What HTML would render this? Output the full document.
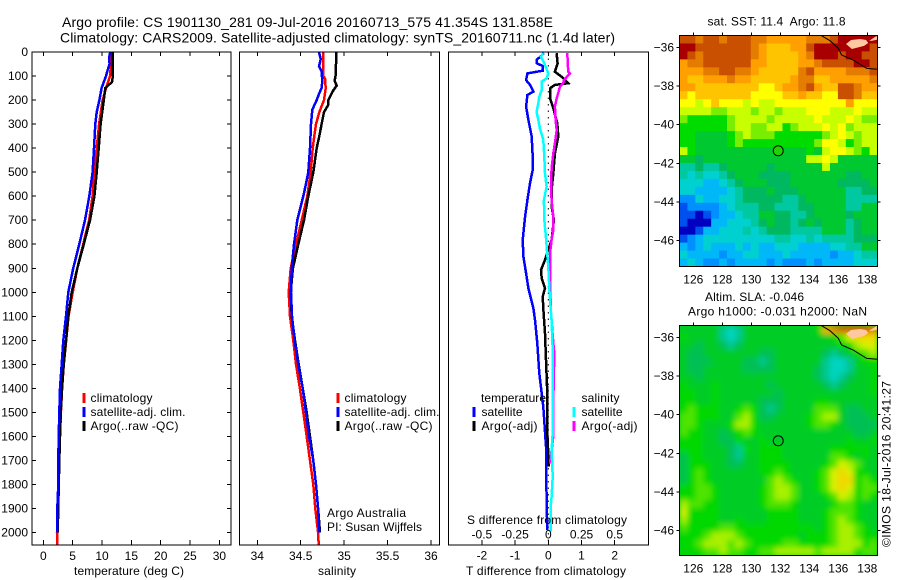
<!DOCTYPE html>
<html>
<head>
<meta charset="utf-8">
<title>Argo profile</title>
<style>
html,body{margin:0;padding:0;background:#fff;width:900px;height:580px;overflow:hidden}
svg{display:block}
text{font-family:"Liberation Sans",sans-serif;font-size:12px;fill:#000}
.t{font-size:14px}
.line{fill:none;shape-rendering:crispEdges;stroke-linejoin:miter}
.frame{fill:none;stroke:#000;stroke-width:1.4;shape-rendering:crispEdges}
.tick{stroke:#000;stroke-width:1;shape-rendering:crispEdges}
.mark{stroke-width:3;shape-rendering:crispEdges}
</style>
</head>
<body>
<svg id="chart" width="900" height="580" viewBox="0 0 900 580" xmlns="http://www.w3.org/2000/svg">
<defs>
<filter id="smooth" x="-3%" y="-3%" width="106%" height="106%"><feGaussianBlur stdDeviation="3"/></filter>
<clipPath id="m2clip"><rect x="679.5" y="325.5" width="198" height="230"/></clipPath>
</defs>
<rect width="900" height="580" fill="#fff"/>
<text class="t" x="62" y="27" textLength="491">Argo profile: CS 1901130_281 09-Jul-2016 20160713_575 41.354S 131.858E</text>
<text class="t" x="60" y="42.5" textLength="555">Climatology: CARS2009. Satellite-adjusted climatology: synTS_20160711.nc (1.4d later)</text>

<g id="p1"></g>
<g id="p2"></g>
<g id="p3"></g>
<g id="m1"></g>
<g id="m2"></g>

<text x="74" y="575" textLength="110">temperature (deg C)</text>
<text x="318" y="575" textLength="38">salinity</text>
<text x="466" y="575" textLength="160">T difference from climatology</text>
<text x="467" y="524" textLength="160">S difference from climatology</text>

<g>
<line class="mark" x1="84" x2="84" y1="393" y2="403" stroke="#ff0000"/>
<line class="mark" x1="84" x2="84" y1="407" y2="417" stroke="#0000ff"/>
<line class="mark" x1="84" x2="84" y1="421" y2="431" stroke="#000"/>
<text x="90.5" y="402" textLength="62">climatology</text>
<text x="90.5" y="416" textLength="95">satellite-adj. clim.</text>
<text x="90.5" y="430" textLength="88">Argo(..raw -QC)</text>
</g>
<g>
<line class="mark" x1="338" x2="338" y1="393" y2="403" stroke="#ff0000"/>
<line class="mark" x1="338" x2="338" y1="407" y2="417" stroke="#0000ff"/>
<line class="mark" x1="338" x2="338" y1="421" y2="431" stroke="#000"/>
<text x="344.5" y="402" textLength="62">climatology</text>
<text x="344.5" y="416" textLength="95">satellite-adj. clim.</text>
<text x="344.5" y="430" textLength="88">Argo(..raw -QC)</text>
</g>
<text x="327" y="517" textLength="79">Argo Australia</text>
<text x="327" y="531" textLength="95">PI: Susan Wijffels</text>
<g>
<text x="481" y="402" textLength="65">temperature</text>
<line class="mark" x1="474" x2="474" y1="407" y2="417" stroke="#0000ff"/>
<line class="mark" x1="474" x2="474" y1="421" y2="431" stroke="#000"/>
<text x="481.5" y="416" textLength="41">satellite</text>
<text x="481.5" y="430" textLength="56">Argo(-adj)</text>
<text x="581.5" y="402" textLength="38">salinity</text>
<line class="mark" x1="574" x2="574" y1="407" y2="417" stroke="#00ffff"/>
<line class="mark" x1="574" x2="574" y1="421" y2="431" stroke="#ff00ff"/>
<text x="581.5" y="416" textLength="41">satellite</text>
<text x="581.5" y="430" textLength="56">Argo(-adj)</text>
</g>

<text x="707.5" y="25.5" textLength="138" xml:space="preserve">sat. SST: 11.4  Argo: 11.8</text>
<text x="705" y="301" textLength="99">Altim. SLA: -0.046</text>
<text x="688" y="315.5" textLength="179">Argo h1000: -0.031 h2000: NaN</text>
<text transform="translate(890.5,547) rotate(-90)" textLength="166">©IMOS 18-Jul-2016 20:41:27</text>
</svg>
<script>
// ---------- profile data ----------
const tempClimDepth = [0,100,150,200,300,400,500,600,700,800,900,1000,1100,1200,1300,1400,1500,1600,1800,2000,2050];
const tempClim = [11.7,11.36,10.7,10.1,9.5,9.1,8.7,8.4,7.8,6.8,5.8,5.0,4.3,3.9,3.5,3.2,3.0,2.85,2.6,2.39,2.39];
const tempArgoDepth = [0,100,125,150,200,300,400,500,600,700,800,900,1000,1100,1200,1300,1400,1500,1600,1700,2000];
const tempArgo = [11.8,11.85,11.7,10.56,10.3,9.77,9.43,9.1,8.7,7.95,6.9,5.8,4.83,4.26,3.87,3.47,3.19,2.96,2.85,2.73,2.45];
const tempSatDepth = [0,25,50,80,100,150,200,250,300,400,500,600,700,800,900,1000,1100,1200,1300,1400,1500,1600,1700,1800,1900,2000];
const tempSat = [11.4,11.2,11.3,10.9,10.68,9.94,9.55,9.1,8.86,8.64,8.4,7.84,7.1,6.14,5.1,4.26,3.87,3.4,3.13,2.85,2.73,2.62,2.56,2.56,2.39,2.33];

const salClimDepth = [0,100,110,150,200,250,300,350,400,500,600,700,800,900,1000,1100,1200,1300,1400,1500,1600,1700,1800,1900,2000,2050];
const salClim = [34.76,34.76,34.78,34.788,34.768,34.714,34.676,34.656,34.638,34.615,34.576,34.511,34.446,34.385,34.361,34.376,34.415,34.446,34.49,34.53,34.569,34.607,34.645,34.668,34.70,34.707];
const salArgoDepth = [0,50,100,120,140,160,200,220,250,300,350,400,500,600,700,800,900,1000,1100,1200,1300,1400,1500,1600,1700,1800,1900,2000];
const salArgo = [34.906,34.906,34.90,34.89,34.914,34.875,34.817,34.817,34.768,34.74,34.714,34.684,34.645,34.587,34.538,34.472,34.41,34.385,34.396,34.434,34.477,34.523,34.569,34.607,34.645,34.676,34.70,34.722];
const salSatDepth = [0,30,60,80,120,150,170,200,240,300,400,500,550,600,700,800,900,1000,1100,1200,1300,1400,1500,1600,1700,1800,1900,2000];
const salSat = [34.71,34.73,34.71,34.74,34.748,34.74,34.715,34.684,34.633,34.618,34.607,34.587,34.56,34.53,34.46,34.423,34.396,34.388,34.40,34.43,34.472,34.523,34.56,34.597,34.645,34.676,34.70,34.714];

const dtSatDepth = [5,33,47,58,78,89,117,137,165,179,227,283,352,435,491,546,616,685,782,852,921,983,1067,1115,1212,1337,1476,1642,1864,1989];
const dtSat = [-0.13,-0.35,-0.35,-0.17,-0.17,-0.63,-0.67,-0.55,-0.45,-0.63,-0.67,-0.60,-0.50,-0.47,-0.47,-0.55,-0.63,-0.70,-0.77,-0.75,-0.67,-0.60,-0.45,-0.40,-0.33,-0.27,-0.15,-0.07,-0.05,-0.03];
const dtArgoDepth = [5,47,82,103,130,137,151,193,234,297,352,422,505,574,643,699,782,810,865,907,942,983,1018,1067,1171,1282,1420,1587,1698,1725];
const dtArgo = [0.25,0.28,0.2,0.4,0.6,0.2,0.05,0.05,0.15,0.27,0.3,0.2,0.15,0.1,0.1,0.17,0.1,0.03,-0.1,-0.22,-0.2,-0.1,-0.17,-0.15,-0.1,-0.07,-0.03,-0.03,0.01,0.01];
const dsSatDepth = [5,19,54,89,110,123,158,186,214,249,283,318,366,435,505,560,616,699,768,838,893,990,1067,1115,1240,1448,1587,1656,1767,1850,1892,1996];
const dsSat = [-0.038,-0.055,-0.025,0,-0.013,-0.05,-0.05,-0.068,-0.075,-0.088,-0.075,-0.063,-0.038,-0.03,-0.025,-0.013,-0.033,-0.03,-0.018,-0.008,0,0.008,0.018,0.025,0.033,0.033,0.033,0.025,0.033,0.025,0.018,0.018];
const dsArgoDepth = [5,82,89,117,130,144,193,227,283,325,380,422,484,560,616,685,741,782,838,921,1067,1212,1254,1448,1600,1712];
const dsArgo = [0.143,0.15,0.163,0.118,0.113,0.088,0.063,0.05,0.055,0.063,0.05,0.038,0.025,0.02,0.025,0.038,0.038,0.025,0.013,0.013,0.018,0.038,0.045,0.038,0.038,0.013];

// ---------- tick labels ----------
const depthTicks = [0,100,200,300,400,500,600,700,800,900,1000,1100,1200,1300,1400,1500,1600,1700,1800,1900,2000];
const tempTicks = [0,5,10,15,20,25,30];
const salTicks = [34,34.5,35,35.5,36];
const dtTicks = [-2,-1,0,1,2];
const dsTicks = [-0.5,-0.25,0,0.25,0.5];
const lonTicks = [126,128,130,132,134,136,138];
const latTicks = [-36,-38,-40,-42,-44,-46];

// ---------- map data (palette index per grid cell, north to south) ----------
const sstPalette = {'0':'#a80000','1':'#c85000','2':'#e47c00','3':'#ffa000','4':'#ffc400','5':'#ffff00','6':'#c8ff00','7':'#78ee00','8':'#00dc00','9':'#00c830','a':'#00b860','b':'#00c8a0','c':'#00d0d0','d':'#00b8f8','e':'#0090ff','f':'#0050f0','g':'#0000c0'};
const slaPalette = {'1':'#d86000','2':'#e88400','3':'#ffa800','4':'#f0d800','5':'#d8f000','6':'#a8f000','7':'#50e400','8':'#00d800','9':'#00cc28','a':'#00c055','b':'#00c890','c':'#00d4c0'};
const sstGrid = [
"11211 21112 23333 32221 00000",
"00111 11112 34443 31000 00001",
"01211 11112 34444 32000 10011",
"32211 11113 34444 33211 11001",
"33322 11223 44444 21333 32221",
"34433 32334 44443 22443 33332",
"33444 44444 55433 21344 11233",
"45444 44445 55544 34455 11244",
"55654 55565 66555 55555 53555",
"66667 76667 66766 65556 66566",
"78888 87666 67666 66566 65677",
"88888 87667 76687 66656 57666",
"88999 98767 77888 88876 56766",
"88999 98788 88888 88755 68766",
"68999 99999 99999 98965 56786",
"99a99 99999 99999 96656 99999",
"bbabb a9999 9a999 99969 99999",
"bcbcc ba999 aaaa9 99999 9aa99",
"cccdd cba99 9aaa9 99999 aaaa9",
"ccddd dcbaa a9aaa 99999 9bbaa",
"eecdd ccbaa aaabb a9999 9bbbb",
"feeee dcbbb aabbb aa999 9bb99",
"ffgfe ddcbb 99aab ba999 9a999",
"fgggd dcccb a9aab a9a99 9ba99",
"ggfdd cccbc baaab bbb99 9ba99",
"fedcc ccccc ccbbc cbcbb bbaaa",
"dedcd ddcdc ddccc ddddc cbb99",
"cdddd eddcc dddcd dddde ddcbb",
"dcdee deddd dedee ededd ddccc"
];
const slaGrid = [
"99999 bcb99 99999 99832 11112",
"89999 bcb99 99999 99998 75444",
"99a99 aba99 99999 99999 88655",
"9aa99 99999 aa999 999ab a9876",
"9aaa9 999aa ba999 999bc cb988",
"9aa99 999aa aa999 99abc cb998",
"99a99 99999 99999 99abc ba998",
"89998 99999 9a999 999ab a9998",
"88998 99999 99a99 99999 99998",
"88998 99999 aaa99 99889 99999",
"87888 99878 aba99 99777 9aa99",
"77888 99768 aa999 98766 9aaa9",
"77899 98668 99999 98778 9aaaa",
"78899 a9878 99999 99999 99aa9",
"88899 aa899 89999 99999 98998",
"88899 9ab89 88899 99998 88889",
"a8899 9ab99 88899 99997 78989",
"a8889 9aa99 88889 99987 56799",
"a8789 99999 88789 99875 45889",
"a8789 99999 97678 99875 44878",
"88778 99999 87667 99875 45877",
"88778 99999 87667 99987 56878",
"67788 99999 87778 99998 77899",
"58888 99999 98888 99987 77899",
"68888 99899 98888 99987 67899",
"78888 77888 88888 88987 66789",
"88876 66788 88888 98887 66788",
"88766 67678 88877 88887 66687",
"88877 67788 77666 66766 66877"
];

// ---------- coastline and land (lon, lat) ----------
const coastLon = [134.8,135.43,136,136.23,137.03,137.96,138.69];
const coastLat = [-35.38,-35.66,-36.05,-36.4,-36.66,-37.09,-37.14];
const islandLon = [136.53,136.88,137.5,137.92,138.06,137.78,136.94];
const islandLat = [-35.83,-35.62,-35.57,-35.62,-35.78,-35.93,-36.09];
const islet2Lon = [138.14,138.65,138.69,138.3];
const islet2Lat = [-35.66,-35.41,-35.6,-35.67];
const argoLon = 131.858;
const argoLat = -41.354;

// ---------- axes ----------
const NS = 'http://www.w3.org/2000/svg';
const TOP = 52, BOTTOM = 545;
function yDepth(d) { return TOP + 0.2403 * d; }
function xTemp(t) { return 43.3 + 5.87 * t; }
function xSal(s) { return 257.3 + 86.85 * (s - 34); }
function xDT(t) { return 548.3 + 33.2 * t; }
function xDS(s) { return 548.3 + 132.8 * s; }
function xLon(l) { return 693.3 + 14.5 * (l - 126); }
function yLatM1(l) { return 47.3 + 19.33 * (-36 - l); }
function yLatM2(l) { return 337.3 + 19.33 * (-36 - l); }

function add(parent, tag, attrs) {
  const el = document.createElementNS(NS, tag);
  for (const k in attrs) el.setAttribute(k, attrs[k]);
  parent.appendChild(el);
  return el;
}
function drawFrame(g, x0, x1, y0, y1) {
  const r = add(g, 'rect', { x: x0, y: y0, width: x1 - x0, height: y1 - y0, 'class': 'frame' });
  
  
}
function drawTick(g, x1, y1, x2, y2) {
  const l = add(g, 'line', { x1: x1, y1: y1, x2: x2, y2: y2, 'class': 'tick' });
  
  
}
function drawLabel(g, x, y, s, anchor) {
  const t = add(g, 'text', { x: x, y: y, 'text-anchor': anchor || 'middle' });
  t.textContent = s;
  
  
}
function drawProfile(g, name, color, xs, depths, xf) {
  const pts = depths.map(function (d, i) { return xf(xs[i]).toFixed(1) + ',' + yDepth(d).toFixed(1); }).join(' ');
  const p = add(g, 'polyline', { points: pts, stroke: color, 'class': 'line', 'stroke-width': 2.5 });
  
  
}

// temperature panel
const p1 = document.getElementById('p1');
drawProfile(p1, 'temperature-climatology-line', '#ff0000', tempClim, tempClimDepth, xTemp);
drawProfile(p1, 'temperature-argo-line', '#000000', tempArgo, tempArgoDepth, xTemp);
drawProfile(p1, 'temperature-satellite-line', '#0000ff', tempSat, tempSatDepth, xTemp);
drawFrame(p1, 32, 231, TOP, BOTTOM);
depthTicks.forEach(function (d) {
  drawTick(p1, 32, yDepth(d), 36, yDepth(d));
  drawTick(p1, 231, yDepth(d), 227, yDepth(d));
  drawLabel(p1, 28, yDepth(d) + 4, String(d), 'end');
});
tempTicks.forEach(function (t) {
  drawTick(p1, xTemp(t), TOP, xTemp(t), TOP + 4);
  drawTick(p1, xTemp(t), BOTTOM, xTemp(t), BOTTOM - 5);
  drawLabel(p1, xTemp(t), 560, String(t));
});

// salinity panel
const p2 = document.getElementById('p2');
drawProfile(p2, 'salinity-climatology-line', '#ff0000', salClim, salClimDepth, xSal);
drawProfile(p2, 'salinity-argo-line', '#000000', salArgo, salArgoDepth, xSal);
drawProfile(p2, 'salinity-satellite-line', '#0000ff', salSat, salSatDepth, xSal);
drawFrame(p2, 239.5, 439.5, TOP, BOTTOM);
salTicks.forEach(function (s) {
  drawTick(p2, xSal(s), TOP, xSal(s), TOP + 4);
  drawTick(p2, xSal(s), BOTTOM, xSal(s), BOTTOM - 5);
  drawLabel(p2, xSal(s), 560, String(s));
});

// difference panel
const p3 = document.getElementById('p3');
const zeroLine = add(p3, 'line', { x1: xDT(0), x2: xDT(0), y1: TOP, y2: BOTTOM, stroke: '#000', 'stroke-width': 1, 'stroke-dasharray': '1.5 5' });


drawProfile(p3, 't-diff-satellite-line', '#0000ff', dtSat, dtSatDepth, xDT);
drawProfile(p3, 't-diff-argo-line', '#000000', dtArgo, dtArgoDepth, xDT);
drawProfile(p3, 's-diff-argo-line', '#ff00ff', dsArgo, dsArgoDepth, xDS);
drawProfile(p3, 's-diff-satellite-line', '#00ffff', dsSat, dsSatDepth, xDS);
drawFrame(p3, 448.5, 648.5, TOP, BOTTOM);
dtTicks.forEach(function (t) {
  drawTick(p3, xDT(t), TOP, xDT(t), TOP + 4);
  drawTick(p3, xDT(t), BOTTOM, xDT(t), BOTTOM - 5);
  drawLabel(p3, xDT(t), 559.5, String(t));
});
dsTicks.forEach(function (s) {
  drawLabel(p3, xDS(s), 538.5, String(s));
});

// maps
function drawMap(id, grid, palette, yLat, y0, y1, mapName, smooth) {
  const g = document.getElementById(id);
  const x0 = 679.5, x1 = 877.5;
  const rows = grid.length, cols = grid[0].replace(/ /g, '').length;
  const cw = (x1 - x0) / cols, ch = (y1 - y0) / rows;
  const clipG = add(g, 'g', {});
  
  
  let cellParent = clipG;
  if (smooth) {
    clipG.setAttribute('clip-path', 'url(#m2clip)');
    const base = add(clipG, 'rect', { x: x0, y: y0, width: x1 - x0, height: y1 - y0, fill: palette['9'] });
    
    
    cellParent = add(clipG, 'g', { filter: 'url(#smooth)' });
    
    
  }
  grid.forEach(function (row, r) {
    row.replace(/ /g, '').split('').forEach(function (v, c) {
      const cell = add(cellParent, 'rect', { x: (x0 + c * cw).toFixed(2), y: (y0 + r * ch).toFixed(2), width: (cw + 0.5).toFixed(2), height: (ch + 0.5).toFixed(2), fill: palette[v] });
      
      
    });
  });
  [[islandLon, islandLat], [islet2Lon, islet2Lat]].forEach(function (pair) {
    const pts = pair[0].map(function (l, i) { return xLon(l).toFixed(1) + ',' + yLat(pair[1][i]).toFixed(1); }).join(' ');
    const land = add(g, 'polygon', { points: pts, fill: '#ffc8a0', stroke: 'none' });
    
    
  });
  const coastPts = coastLon.map(function (l, i) { return xLon(l).toFixed(1) + ',' + yLat(coastLat[i]).toFixed(1); }).join(' ');
  const coast = add(g, 'polyline', { points: coastPts, fill: 'none', stroke: '#000', 'stroke-width': 1 });
  
  
  const marker = add(g, 'circle', { cx: xLon(argoLon), cy: yLat(argoLat), r: 5, fill: id === 'm1' ? '#20d400' : 'none', stroke: '#000', 'stroke-width': 1 });
  
  
  drawFrame(g, x0, x1, y0, y1);
  lonTicks.forEach(function (l) {
    drawTick(g, xLon(l), y0, xLon(l), y0 - 3);
    drawLabel(g, xLon(l), y1 + 17, String(l));
  });
  latTicks.forEach(function (l) {
    drawTick(g, x0, yLat(l), x0 - 3, yLat(l));
    drawTick(g, x1, yLat(l), x1 + 3, yLat(l));
    drawLabel(g, 674, yLat(l) + 4, String(l).replace('-', '\u2212'), 'end');
  });
}
drawMap('m1', sstGrid, sstPalette, yLatM1, 35.5, 266.5, 'sst', false);
drawMap('m2', slaGrid, slaPalette, yLatM2, 325.5, 555.5, 'sla', true);
</script>
</body>
</html>
